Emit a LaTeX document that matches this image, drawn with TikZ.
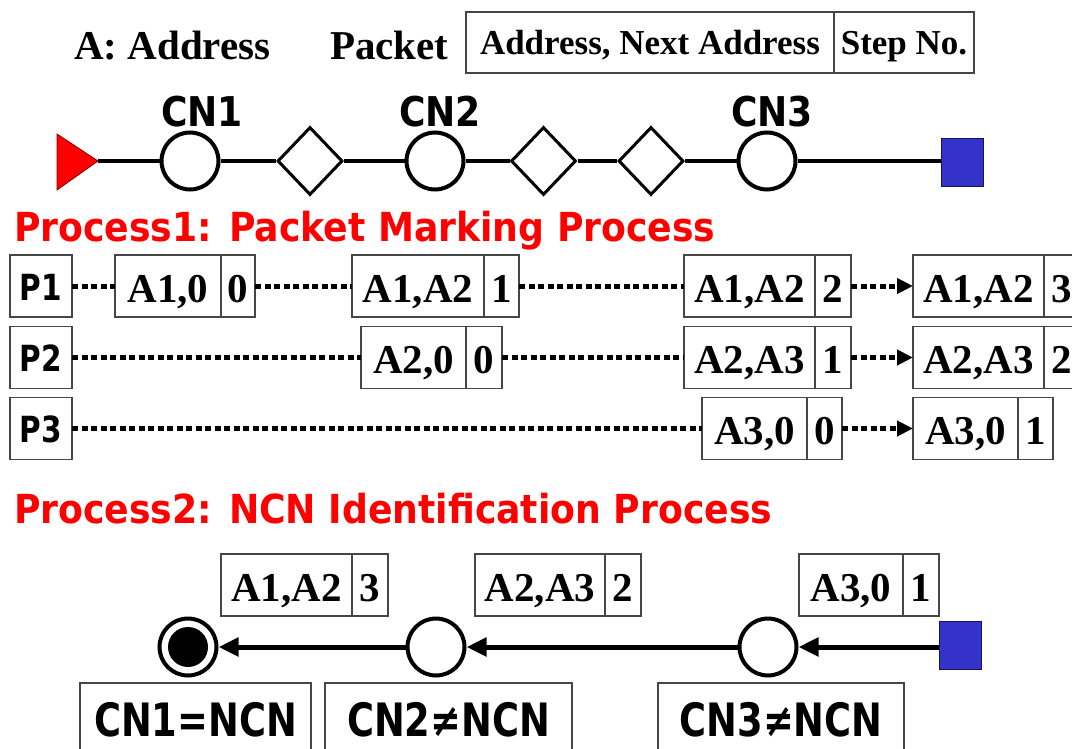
\documentclass[tikz,border=0pt]{standalone}
\usepackage{fontspec}
\setmainfont{Liberation Serif}
\newfontfamily\sanA{DejaVu Sans}[FakeStretch=0.88]
\newfontfamily\sanH{DejaVu Sans}[FakeStretch=0.905]
\newfontfamily\sanP{DejaVu Sans}[FakeStretch=0.82]
\newfontfamily\sanB{DejaVu Sans}[FakeStretch=0.8]
\usetikzlibrary{arrows.meta,shapes.geometric}
\definecolor{sqblue}{RGB}{51,51,204}
\definecolor{sqedge}{RGB}{20,20,90}
\definecolor{boxgray}{RGB}{70,70,70}
\begin{document}
\begin{tikzpicture}[x=1pt,y=-1pt,
  cell/.style={draw=boxgray, line width=1.2pt, rectangle, inner sep=0pt, outer sep=0pt,
    minimum height=62pt, anchor=west, font=\bfseries\fontsize{41}{41}\selectfont,
    text height=32pt, text depth=0pt},
  legcell/.style={draw=boxgray, line width=1.2pt, rectangle, inner sep=0pt, outer sep=0pt,
    minimum height=61pt, anchor=west, font=\bfseries\fontsize{35}{35}\selectfont,
    text height=25pt, text depth=0pt},
  plabel/.style={draw=boxgray, line width=1.2pt, rectangle, inner sep=0pt, outer sep=0pt,
    minimum width=62pt, minimum height=62pt, font=\sanP\bfseries\fontsize{36}{36}\selectfont,
    text height=28pt, text depth=0pt},
  ncnbox/.style={draw=boxgray, line width=1.2pt, rectangle, inner sep=0pt, outer sep=0pt,
    minimum height=90pt, anchor=north, font=\sanB\bfseries\fontsize{46}{46}\selectfont,
    text height=16pt, text depth=0pt},
  freetext/.style={anchor=base west, inner sep=0pt, font=\bfseries\fontsize{41}{41}\selectfont},
  cnlabel/.style={anchor=base, inner sep=0pt, font=\sanA\bfseries\fontsize{41}{41}\selectfont},
  heading/.style={anchor=base west, inner sep=0pt, text=red, font=\sanH\bfseries\fontsize{40}{40}\selectfont},
  circ/.style={circle, draw, line width=4pt, minimum size=57pt, inner sep=0pt, fill=white},
  dia/.style={diamond, draw, line width=3pt, minimum width=65pt, minimum height=68pt, inner sep=0pt, fill=white},
  bluesq/.style={rectangle, draw=sqedge, line width=1pt, fill=sqblue, inner sep=0pt, minimum width=42pt, minimum height=48pt},
  chain/.style={line width=4pt},
  dotline/.style={line width=5pt, dash pattern=on 6pt off 3.5pt},
  darrow/.style={dotline, -{Triangle[length=16pt,width=15pt]}},
  barrow/.style={line width=5pt, -{Triangle[length=20pt,width=18pt]}}
]
\useasboundingbox (0,0) rectangle (1072,749);
\clip (0,0) rectangle (1072,749);

% legend
\node[freetext] (akey) at (74,60) {A: Address};
\node[freetext] (pkey) at (330,60) {Packet};
\node[legcell, minimum width=368pt] (lga) at (466,42.5) {Address, Next Address};
\node[legcell, minimum width=140pt] (lgs) at (lga.east) {Step No.};

% top chain
\fill[red, draw=red!50!black, line width=0.8pt] (57,134) -- (98,161) -- (57,190) -- cycle;
\coordinate (src) at (98,161);
\node[circ] (cn1) at (190,161) {};
\node[dia] (d1) at (310,161) {};
\node[circ] (cn2) at (435,161) {};
\node[dia] (d2) at (543.5,161) {};
\node[dia] (d3) at (651,161) {};
\node[circ] (cn3) at (767,161) {};
\node[bluesq] (dst) at (962,163) {};
\draw[chain] (src) -- (cn1) -- (d1) -- (cn2) -- (d2) -- (d3) -- (cn3) -- (cn3 -| dst.west);
\node[cnlabel] (l1) at (202,127) {CN1};
\node[cnlabel] (l2) at (440,127) {CN2};
\node[cnlabel] (l3) at (772,127) {CN3};

% Process 1
\node[heading] (h1) at (14,242) {Process1: Packet Marking Process};

\node[plabel] (p1) at (41,286) {P1};
\node[cell, minimum width=106pt] (r1a) at (115,286) {A1,0};
\node[cell, minimum width=34pt] (r1as) at (r1a.east) {0};
\node[cell, minimum width=132pt] (r1b) at (352,286) {A1,A2};
\node[cell, minimum width=35pt] (r1bs) at (r1b.east) {1};
\node[cell, minimum width=131pt] (r1c) at (684,286) {A1,A2};
\node[cell, minimum width=36pt] (r1cs) at (r1c.east) {2};
\node[cell, minimum width=131pt] (r1d) at (913,286) {A1,A2};
\node[cell, minimum width=36pt] (r1ds) at (r1d.east) {3};
\draw[dotline] (p1) -- (r1a);
\draw[dotline] (r1as) -- (r1b);
\draw[dotline] (r1bs) -- (r1c);
\draw[darrow] (r1cs) -- (r1d);

\node[plabel] (p2) at (41,357.5) {P2};
\node[cell, minimum width=105pt] (r2a) at (361,357.5) {A2,0};
\node[cell, minimum width=36pt] (r2as) at (r2a.east) {0};
\node[cell, minimum width=131pt] (r2b) at (684,357.5) {A2,A3};
\node[cell, minimum width=36pt] (r2bs) at (r2b.east) {1};
\node[cell, minimum width=131pt] (r2c) at (913,357.5) {A2,A3};
\node[cell, minimum width=36pt] (r2cs) at (r2c.east) {2};
\draw[dotline] (p2) -- (r2a);
\draw[dotline] (r2as) -- (r2b);
\draw[darrow] (r2bs) -- (r2c);

\node[plabel] (p3) at (41,428.5) {P3};
\node[cell, minimum width=105pt] (r3a) at (702,428.5) {A3,0};
\node[cell, minimum width=35pt] (r3as) at (r3a.east) {0};
\node[cell, minimum width=105pt] (r3b) at (913,428.5) {A3,0};
\node[cell, minimum width=35pt] (r3bs) at (r3b.east) {1};
\draw[dotline] (p3) -- (r3a);
\draw[darrow] (r3as) -- (r3b);

% Process 2
\node[heading] (h2) at (14,523) {Process2: NCN Identification Process};

\node[cell, minimum width=131pt] (b1) at (221,585) {A1,A2};
\node[cell, minimum width=36pt] (b1s) at (b1.east) {3};
\node[cell, minimum width=130pt] (b2) at (475,585) {A2,A3};
\node[cell, minimum width=36pt] (b2s) at (b2.east) {2};
\node[cell, minimum width=104pt] (b3) at (799,585) {A3,0};
\node[cell, minimum width=36pt] (b3s) at (b3.east) {1};

\node[circ] (m1) at (188,647) {};
\node[circle, fill=black, minimum size=40pt, inner sep=0pt] (m1in) at (m1.center) {};
\node[circ] (m2) at (436,647) {};
\node[circ] (m3) at (768,647) {};
\node[bluesq] (sq2) at (960,645) {};
\draw[barrow] (sq2.west |- m3) -- (m3);
\draw[barrow] (m3) -- (m2);
\draw[barrow] (m2) -- (m1);

\node[ncnbox, minimum width=231pt] (n1) at (195.5,683) {CN1=NCN};
\node[ncnbox, minimum width=247pt] (n2) at (448.5,683) {CN2≠NCN};
\node[ncnbox, minimum width=246pt] (n3) at (781,683) {CN3≠NCN};
\end{tikzpicture}
\end{document}
